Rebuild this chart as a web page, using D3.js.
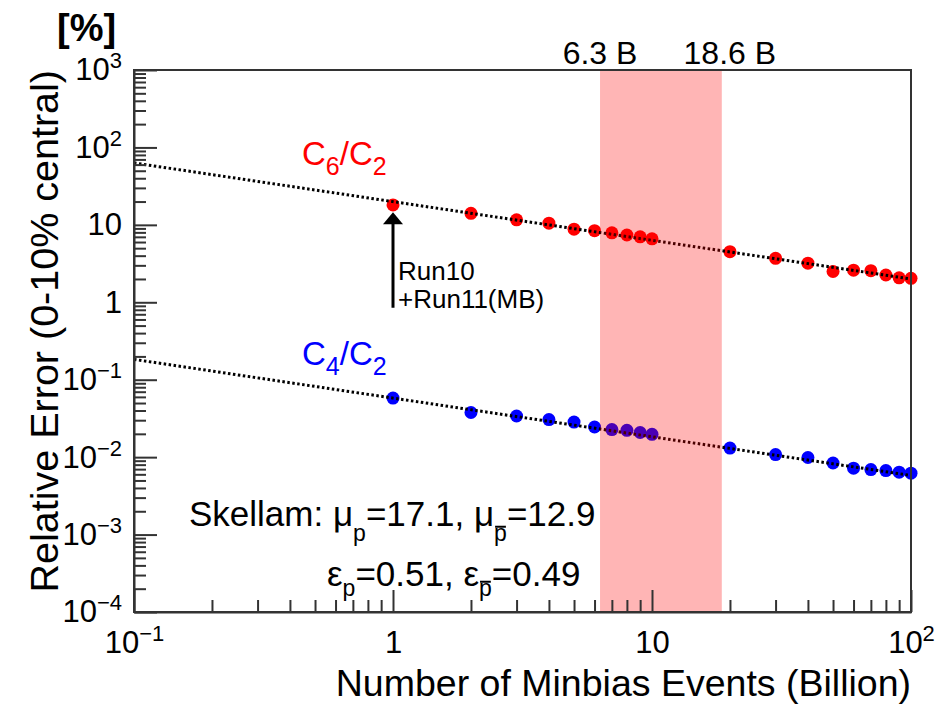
<!DOCTYPE html>
<html>
<head>
<meta charset="utf-8">
<script src="https://cdn.jsdelivr.net/npm/d3@7"></script>
<style>
  body { margin: 0; background: #fff; }
  text { font-family: "Liberation Sans", Arial, Helvetica, sans-serif; white-space: pre; }
</style>
</head>
<body>
<svg id="chart" width="941" height="705"></svg>
<script>
// chart size
const width = 941;
const height = 705;

const margin = { top: 70, right: 30, bottom: 93, left: 134 };

// data
const events = [1, 2, 3, 4, 5, 6, 7, 8, 9, 10, 20, 30, 40, 50, 60, 70, 80, 90, 100];
const errC6C2 = [18.1, 14.1, 11.6, 10.5, 8.8, 8.4, 7.9, 7.4, 7.0, 6.6, 4.5, 3.7, 3.2, 2.5, 2.6, 2.56, 2.25, 2.07, 2.04];
const errC4C2 = [0.058, 0.0377, 0.034, 0.0306, 0.0284, 0.0245, 0.0227, 0.0222, 0.0208, 0.0197,
                 0.0131, 0.0108, 0.0099, 0.0084, 0.0072, 0.0069, 0.0067, 0.0064, 0.0062];

// dotted scaling lines (end points)
const fitEvents = [0.1, 100];
const fitC6C2 = [63, 2.0];
const fitC4C2 = [0.183, 0.0058];

// shaded band
const band = [6.3, 18.6];
const bandLabels = ['6.3 B', '18.6 B'];

// arrow at Run10+Run11
const arrowEvents = 1;
const arrowRange = [0.85, 14.5];

// axes
const xDomain = [0.1, 100];
const yDomain = [1e-4, 1e3];
const xTicks = [0.1, 1, 10, 100];
const xTickLabels = [['10', '\u22121'], ['1', ''], ['10', ''], ['10', '2']];
const yTicks = [1e-4, 1e-3, 1e-2, 1e-1, 1, 10, 100, 1000];
const yTickLabels = [['10', '\u22124'], ['10', '\u22123'], ['10', '\u22122'], ['10', '\u22121'],
                     ['1', ''], ['10', ''], ['10', '2'], ['10', '3']];

const svg = d3.select('#chart');

const x = d3.scaleLog().domain(xDomain).range([margin.left, width - margin.right]);
const y = d3.scaleLog().domain(yDomain).range([height - margin.bottom, margin.top]);

const plotW = width - margin.left - margin.right;
const plotH = height - margin.top - margin.bottom;

// minor tick values (2..9 in each decade)
function minors(lo, hi) {
  const out = [];
  for (let e = lo; e < hi; e++) {
    for (let k = 2; k <= 9; k++) out.push(k * Math.pow(10, e));
  }
  return out;
}

/*
 * text built from pieces, with subscripts and overbars
 */
function richText(parent, x0, y0, segs, size, color, weight) {
  const g = parent.append('g');
  let cx = x0;
  segs.forEach(s => {
    const fs = s.sub ? (s.subSize || size * 0.7) : size;
    const dy = s.sub ? (s.dy || size * 0.35) : 0;
    const t = g.append('text')
      .attr('x', cx)
      .attr('y', y0 + dy)
      .attr('font-size', fs)
      .attr('font-weight', weight || 'normal')
      .attr('fill', color)
      .text(s.t);
    const w = t.node().getComputedTextLength();
    if (s.bar) {
      g.append('line')
        .attr('x1', cx + 1).attr('x2', cx + w - 1)
        .attr('y1', y0 + dy - fs * 0.62).attr('y2', y0 + dy - fs * 0.62)
        .attr('stroke', color).attr('stroke-width', 2);
    }
    cx += w;
  });
  return g;
}

// points first, dotted lines over them
const pts = svg.append('g').attr('id', 'points');
pts.selectAll('circle.c6')
  .data(events)
  .enter().append('circle')
  .attr('class', 'c6')
  .attr('cx', d => x(d))
  .attr('cy', (d, i) => y(errC6C2[i]))
  .attr('r', 6.5)
  .attr('fill', '#ff0000');
pts.selectAll('circle.c4')
  .data(events)
  .enter().append('circle')
  .attr('class', 'c4')
  .attr('cx', d => x(d))
  .attr('cy', (d, i) => y(errC4C2[i]))
  .attr('r', 6.5)
  .attr('fill', '#0000ff');

const line = d3.line().x(d => x(d[0])).y(d => y(d[1]));
[fitC6C2, fitC4C2].forEach(f => {
  svg.append('path')
    .datum(fitEvents.map((e, i) => [e, f[i]]))
    .attr('d', line)
    .attr('fill', 'none')
    .attr('stroke', '#000')
    .attr('stroke-width', 3)
    .attr('stroke-dasharray', '2.5 2.5');
});

// transparent band on top
svg.append('rect')
  .attr('x', x(band[0]))
  .attr('y', margin.top)
  .attr('width', x(band[1]) - x(band[0]))
  .attr('height', plotH)
  .attr('fill', '#ff0000')
  .attr('fill-opacity', 0.29);

svg.selectAll('text.band')
  .data(band)
  .enter().append('text')
  .attr('class', 'band')
  .attr('x', (d, i) => x(d) + (i === 1 ? 8 : 0))
  .attr('y', 64)
  .attr('text-anchor', 'middle')
  .attr('font-size', 32)
  .text((d, i) => bandLabels[i]);

// arrow
const ax = x(arrowEvents);
svg.append('line')
  .attr('x1', ax).attr('x2', ax)
  .attr('y1', y(arrowRange[0])).attr('y2', y(arrowRange[1]) + 10)
  .attr('stroke', '#000').attr('stroke-width', 3);
svg.append('path')
  .attr('d', `M${ax},${y(arrowRange[1])} L${ax - 10},${y(arrowRange[1]) + 12} L${ax + 10},${y(arrowRange[1]) + 12} Z`)
  .attr('fill', '#000');
svg.append('text').attr('x', ax + 5).attr('y', 280).attr('font-size', 26).text('Run10');
svg.append('text').attr('x', ax + 5).attr('y', 308).attr('font-size', 26).text('+Run11(MB)');

// series labels
richText(svg, 302, 165, [{ t: 'C' }, { t: '6', sub: true, subSize: 25, dy: 10 }, { t: '/C' }, { t: '2', sub: true, subSize: 25, dy: 10 }], 33, '#ff0000');
richText(svg, 302, 365, [{ t: 'C' }, { t: '4', sub: true, subSize: 25, dy: 10 }, { t: '/C' }, { t: '2', sub: true, subSize: 25, dy: 10 }], 33, '#0000ff');

// Skellam text
richText(svg, 189, 526, [
  { t: 'Skellam: \u03bc' }, { t: 'p', sub: true, subSize: 23, dy: 15 },
  { t: '=17.1, \u03bc' }, { t: 'p', sub: true, subSize: 23, dy: 15, bar: true },
  { t: '=12.9' }
], 35, '#000');
richText(svg, 327, 586, [
  { t: '\u03b5' }, { t: 'p', sub: true, subSize: 23, dy: 10 },
  { t: '=0.51, \u03b5' }, { t: 'p', sub: true, subSize: 23, dy: 10, bar: true },
  { t: '=0.49' }
], 35, '#000');

// axes
function labelTicks(g, labels, supDy) {
  g.selectAll('.tick text').each(function(d, i) {
    const t = d3.select(this);
    t.text(null);
    t.append('tspan').text(labels[i][0]);
    if (labels[i][1]) {
      t.append('tspan').attr('dy', supDy).attr('font-size', 22).text(labels[i][1]);
    }
  });
}

const xMajor = svg.append('g')
  .attr('transform', `translate(0,${height - margin.bottom})`)
  .call(d3.axisBottom(x).tickValues(xTicks).tickSizeInner(-22).tickSizeOuter(0)
    .tickPadding(19).tickFormat(() => ''));
labelTicks(xMajor, xTickLabels, -12);

const xMinor = svg.append('g')
  .attr('transform', `translate(0,${height - margin.bottom})`)
  .call(d3.axisBottom(x).tickValues(minors(-1, 2)).tickSizeInner(-12).tickSizeOuter(0).tickFormat(() => ''));
xMinor.select('.domain').remove();

const yMajor = svg.append('g')
  .attr('transform', `translate(${margin.left},0)`)
  .call(d3.axisLeft(y).tickValues(yTicks).tickSizeInner(-23).tickSizeOuter(0)
    .tickPadding(12).tickFormat(() => ''));
labelTicks(yMajor, yTickLabels, -12);

const yMinor = svg.append('g')
  .attr('transform', `translate(${margin.left},0)`)
  .call(d3.axisLeft(y).tickValues(minors(-4, 3)).tickSizeInner(-12).tickSizeOuter(0).tickFormat(() => ''));
yMinor.select('.domain').remove();

[xMajor, xMinor, yMajor, yMinor].forEach(g => {
  g.attr('font-family', '"Liberation Sans", Arial, Helvetica, sans-serif')
   .attr('font-size', 31);
  g.selectAll('line').attr('stroke', '#333').attr('stroke-width', 2);
  g.selectAll('.domain').attr('stroke', '#333').attr('stroke-width', 2);
  g.selectAll('text').attr('fill', '#000');
});

// frame
svg.append('rect')
  .attr('x', margin.left).attr('y', margin.top)
  .attr('width', plotW).attr('height', plotH)
  .attr('fill', 'none').attr('stroke', '#333').attr('stroke-width', 2);

// axis titles
svg.append('text')
  .attr('x', width - margin.right)
  .attr('y', 696)
  .attr('text-anchor', 'end')
  .attr('font-size', 37.5)
  .text('Number of Minbias Events (Billion)');

svg.append('g')
  .attr('transform', 'translate(58,70)')
  .append('text')
  .attr('transform', 'rotate(-90)')
  .attr('text-anchor', 'end')
  .attr('font-size', 39.5)
  .text('Relative Error (0-10% central)');

svg.append('text')
  .attr('x', 57)
  .attr('y', 41)
  .attr('font-size', 38)
  .attr('font-weight', 'bold')
  .text('[%]');
</script>
</body>
</html>
